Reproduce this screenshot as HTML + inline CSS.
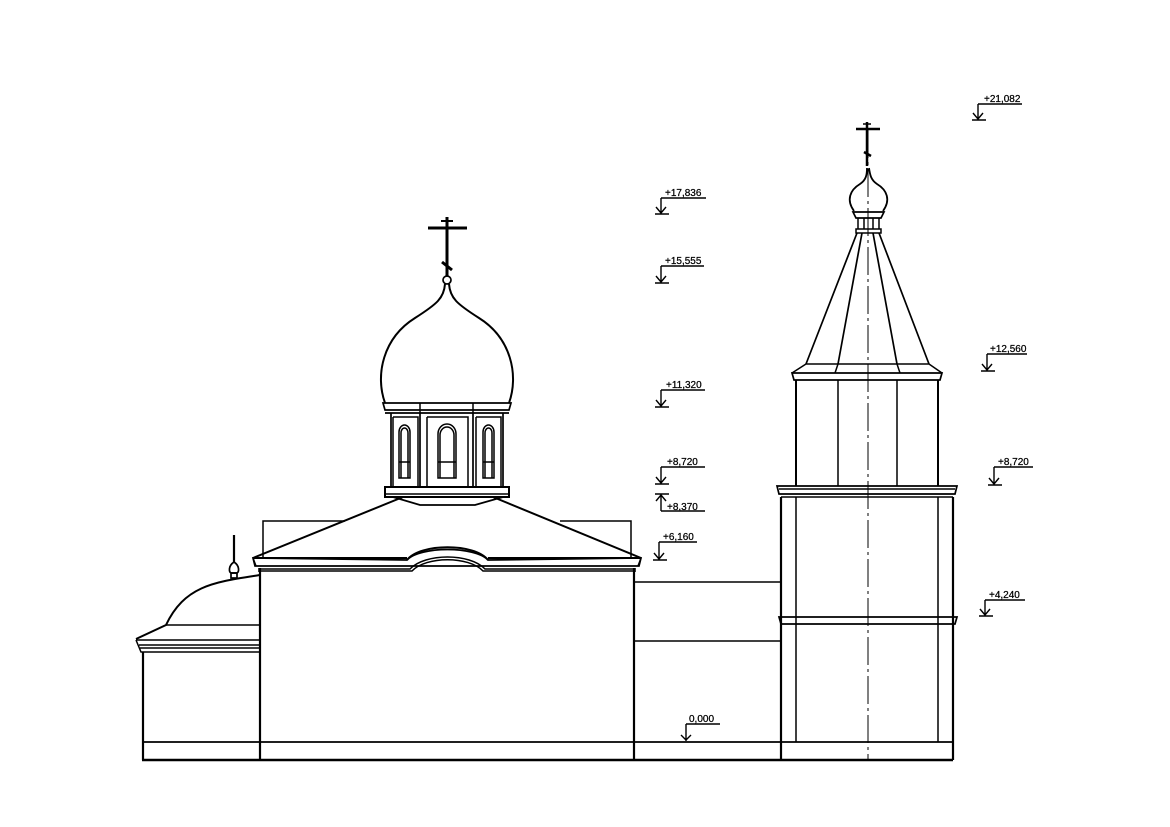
<!DOCTYPE html>
<html><head><meta charset="utf-8"><style>
html,body{margin:0;padding:0;background:#fff;}
svg{display:block}
text{font-family:"Liberation Sans",sans-serif;font-size:10px;fill:#000;stroke:#000;stroke-width:0.25;}
</style></head><body>
<svg width="1170" height="827" viewBox="0 0 1170 827" xmlns="http://www.w3.org/2000/svg">
<g fill="none" stroke="#000" stroke-width="1.5">
<!-- ground -->
<line x1="142" y1="760" x2="953" y2="760" stroke-width="2.4"/>
<line x1="142" y1="742" x2="953" y2="742" stroke-width="1.7"/>

<!-- left annex -->
<line x1="143" y1="652" x2="143" y2="760" stroke-width="2.2"/>
<path d="M136,640 L141,652 L260,652 M136,640 L260,640 M139,645 L260,645 M140,648 L260,648" />
<path d="M136,639 L166,625 C185,585 215,582 260,575" stroke-width="2"/>
<line x1="166" y1="625" x2="260" y2="625"/>
<line x1="234" y1="535" x2="234" y2="562" stroke-width="2.2"/>
<path d="M234,562 C228,566 229,572 231,573 L237,573 C239,572 240,566 234,562 Z" stroke-width="1.7"/>
<rect x="231" y="573" width="6" height="5" stroke-width="1.7"/>

<!-- back roof rect -->
<path d="M263,560 L263,521 L345,521 M560,521 L631,521 L631,560"/>

<!-- main block -->
<line x1="260" y1="568" x2="260" y2="760" stroke-width="2.2"/>
<line x1="634" y1="568" x2="634" y2="760" stroke-width="2.2"/>
<path d="M253,558 L403,497 M641,558 L493,497" stroke-width="2"/>
<path d="M253,558 L407,560 C420,546 475,546 488,560 L641,558 L639,566 L255,566 Z" stroke-width="1.7" fill="#fff"/>
<path d="M253,558 L256,566 M641,558 L638,566"/>
<path d="M258,569 L410,569 C425,553 470,553 485,569 L636,569" />
<path d="M258,571 L412,571 C426,556 469,556 483,571 L636,571" />
<path d="M407,560 C420,543 475,543 488,560" stroke-width="2"/>
<path d="M253,558 L407,558 M488,558 L641,558" stroke-width="2"/>

<!-- drum -->
<path d="M393,497 L420,505 L475,505 L503,497" stroke-width="1.7"/>
<rect x="385" y="487" width="124" height="10" stroke-width="2"/>
<line x1="385" y1="494" x2="509" y2="494"/>
<path d="M391,413 L391,487 M420,413 L420,487 M473,413 L473,487 M503,413 L503,487" stroke-width="1.7"/>
<path d="M393,417 L418,417 L418,486 M427,417 L468,417 L468,486 M476,417 L501,417 L501,486 M393,417 L393,486 M427,417 L427,486 M476,417 L476,486"/>
<path d="M399,478 L399,432 A5.5,7 0 0 1 410,432 L410,478 Z M401,478 L401,433 A3.5,5 0 0 1 408,433 L408,478 M399,462 L410,462"/>
<path d="M438,478 L438,434 A9,10 0 0 1 456,434 L456,478 Z M440,478 L440,435 A7,8 0 0 1 454,435 L454,478 M438,462 L456,462"/>
<path d="M483,478 L483,432 A5.5,7 0 0 1 494,432 L494,478 Z M485,478 L485,433 A3.5,5 0 0 1 492,433 L492,478 M483,462 L494,462"/>
<path d="M383,403 L511,403 L509,410 L385,410 Z" stroke-width="1.7"/>
<line x1="385" y1="413" x2="509" y2="413" stroke-width="1.7"/>
<line x1="420" y1="403" x2="420" y2="413"/><line x1="473" y1="403" x2="473" y2="413"/>
<!-- onion -->
<path d="M385,403 C375,375 383,338 415,318 C437,304 444,298 445,284 M509,403 C519,375 511,338 479,318 C457,304 450,298 449,284" stroke-width="2"/>
<circle cx="447" cy="280" r="4" stroke-width="1.7"/>
<line x1="447" y1="217" x2="447" y2="276" stroke-width="3"/>
<line x1="428" y1="228" x2="467" y2="228" stroke-width="3"/>
<line x1="441" y1="221" x2="453" y2="221" stroke-width="2"/>
<line x1="442" y1="262" x2="452" y2="270" stroke-width="3"/>

<!-- link -->
<path d="M634,582 L781,582 M634,641 L781,641"/>

<!-- tower lower -->
<path d="M781,497 L781,760 M953,497 L953,760" stroke-width="2.2"/>
<path d="M796,497 L796,742 M938,497 L938,742"/>
<path d="M779,617 L957,617 L955,624 L781,624 Z" stroke-width="1.7"/>
<path d="M777,486 L957,486 L955,494 L779,494 Z" stroke-width="1.7"/>
<line x1="781" y1="497" x2="953" y2="497"/>
<line x1="779" y1="489" x2="955" y2="489"/>
<!-- tower upper -->
<path d="M796,380 L796,486 M938,380 L938,486" stroke-width="2"/>
<path d="M838,380 L838,486 M897,380 L897,486"/>
<path d="M792,373 L942,373 L940,380 L794,380 Z" stroke-width="1.7"/>
<path d="M792,373 L806,364 L929,364 L942,373 M838,364 L835,373 M897,364 L900,373"/>
<path d="M806,364 L857,233 M929,364 L879,233 M838,364 L862,233 M897,364 L873,233" stroke-width="1.7"/>
<rect x="856" y="229" width="25" height="4"/>
<path d="M858,229 L858,218 M879,229 L879,218 M864,218 L864,229 M873,218 L873,229" />
<path d="M853,212 L884,212 L881,218 L856,218 Z" stroke-width="1.7"/>
<path d="M854,211 C846,200 850,190 860,184 C866,180 867,175 867,168 M883,211 C891,200 887,190 877,184 C871,180 870,175 869,168" stroke-width="1.8"/>
<line x1="867" y1="122" x2="867" y2="166" stroke-width="2.5"/>
<line x1="856" y1="129" x2="880" y2="129" stroke-width="2.5"/>
<line x1="863" y1="124" x2="871" y2="124" stroke-width="1.5"/>
<line x1="864" y1="152" x2="871" y2="156" stroke-width="2.5"/>
<line x1="868" y1="130" x2="868" y2="760" stroke-width="1" stroke-dasharray="28,4,3,4"/>
</g>

<!-- level marks -->
<g fill="none" stroke="#000" stroke-width="1.4">
<path d="M978,104 L1022,104 M978,104 L978,120 M972,120 L986,120 M973,113 L978,119 L983,113"/>
<path d="M661,198 L706,198 M661,198 L661,214 M655,214 L669,214 M656,207 L661,213 L666,207"/>
<path d="M661,266 L704,266 M661,266 L661,283 M655,283 L669,283 M656,276 L661,282 L666,276"/>
<path d="M661,390 L705,390 M661,390 L661,407 M655,407 L669,407 M656,400 L661,406 L666,400"/>
<path d="M987,354 L1027,354 M987,354 L987,371 M981,371 L995,371 M982,364 L987,370 L992,364"/>
<path d="M661,467 L705,467 M661,467 L661,484 M655,484 L669,484 M656,477 L661,483 L666,477"/>
<path d="M661,511 L705,511 M661,511 L661,495 M655,494 L669,494 M656,501 L661,495 L666,501"/>
<path d="M659,542 L697,542 M659,542 L659,560 M653,560 L667,560 M654,553 L659,559 L664,553"/>
<path d="M994,467 L1033,467 M994,467 L994,485 M988,485 L1002,485 M989,478 L994,484 L999,478"/>
<path d="M985,600 L1025,600 M985,600 L985,616 M979,616 L993,616 M980,609 L985,615 L990,609"/>
<path d="M686,724 L720,724 M686,724 L686,741 M681,735 L686,740 L691,735"/>
</g>
<g>
<text x="984" y="102">+21,082</text>
<text x="665" y="196">+17,836</text>
<text x="665" y="264">+15,555</text>
<text x="666" y="388">+11,320</text>
<text x="990" y="352">+12,560</text>
<text x="667" y="465">+8,720</text>
<text x="667" y="510">+8,370</text>
<text x="663" y="540">+6,160</text>
<text x="998" y="465">+8,720</text>
<text x="989" y="598">+4,240</text>
<text x="689" y="722">0,000</text>
</g>
</svg>
</body></html>
